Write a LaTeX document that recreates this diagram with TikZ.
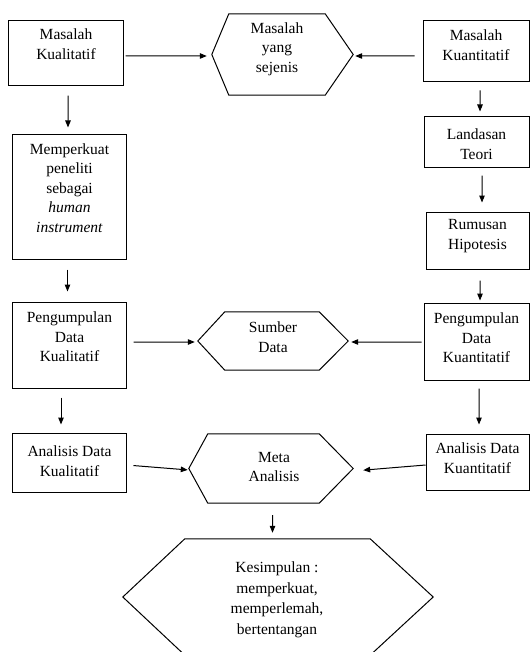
\documentclass[tikz,border=0pt]{standalone}
\usepackage{fontspec}
\setmainfont{Liberation Serif}
\usetikzlibrary{arrows.meta}
\tikzset{
  box/.style={draw=black, line width=1bp, rectangle, inner sep=0pt},
  hexn/.style={rectangle, inner sep=0pt, draw=none},
  hexline/.style={draw=black, line width=1bp, line join=miter},
  txt/.style={align=center, inner sep=0pt, font=\fontsize{15.5bp}{19.5bp}\selectfont},
  arr/.style={draw=black, line width=1bp, -{Triangle[length=7bp,width=5.5bp]}},
}
\begin{document}
\begin{tikzpicture}[x=1bp,y=-1bp]
\useasboundingbox (0,0) rectangle (530,652);
\fill[white] (0,0) rectangle (530,652);
\clip (0,0) rectangle (530,652);

% left column boxes
\node[box, minimum width=114bp, minimum height=65bp] (mk) at (66,53.5) {};
\node[txt] (mk-t) at (66,44) {Masalah\\Kualitatif};
\node[box, minimum width=113bp, minimum height=124bp] (mp) at (69.5,197) {};
\node[txt] (mp-t) at (69.5,188) {Memperkuat\\peneliti\\sebagai\\\textit{human}\\\textit{instrument}};
\node[box, minimum width=113bp, minimum height=86bp] (pk) at (69.5,345) {};
\node[txt] (pk-t) at (69.5,337) {Pengumpulan\\Data\\Kualitatif};
\node[box, minimum width=113bp, minimum height=59bp] (ak) at (69.5,462.5) {};
\node[txt] (ak-t) at (69.5,461) {Analisis Data\\Kualitatif};

% right column boxes
\node[box, minimum width=106bp, minimum height=61bp] (mq) at (476,51.5) {};
\node[txt] (mq-t) at (476,45) {Masalah\\Kuantitatif};
\node[box, minimum width=105bp, minimum height=50bp] (lt) at (476.5,142) {};
\node[txt] (lt-t) at (476.5,144) {Landasan\\Teori};
\node[box, minimum width=103bp, minimum height=57bp] (rh) at (477.5,240.5) {};
\node[txt] (rh-t) at (477.5,236) {Rumusan\\Hipotesis};
\node[box, minimum width=105bp, minimum height=77bp] (pq) at (476.5,341.5) {};
\node[txt] (pq-t) at (476.5,338) {Pengumpulan\\Data\\Kuantitatif};
\node[box, minimum width=103bp, minimum height=56bp] (aq) at (477.5,462) {};
\node[txt] (aq-t) at (477.5,458) {Analisis Data\\Kuantitatif};

% hexagons
\node[hexn, minimum width=141bp, minimum height=81bp] (ms) at (282.5,54.5) {};
\draw[hexline] (ms.west) -- ([xshift=17bp]ms.north west) -- ([xshift=-28bp]ms.north east) -- (ms.east) -- ([xshift=-28bp]ms.south east) -- ([xshift=17bp]ms.south west) -- cycle;
\node[txt] (ms-t) at (277,49) {Masalah\\yang\\sejenis};

\node[hexn, minimum width=150bp, minimum height=58bp] (sd) at (273,341) {};
\draw[hexline] (sd.west) -- ([xshift=27bp]sd.north west) -- ([xshift=-29bp]sd.north east) -- (sd.east) -- ([xshift=-29bp]sd.south east) -- ([xshift=27bp]sd.south west) -- cycle;
\node[txt] (sd-t) at (273,337) {Sumber\\Data};

\node[hexn, minimum width=164bp, minimum height=69bp] (ma) at (271,468.5) {};
\draw[hexline] (ma.west) -- ([xshift=19bp]ma.north west) -- ([xshift=-34bp]ma.north east) -- (ma.east) -- ([xshift=-34bp]ma.south east) -- ([xshift=19bp]ma.south west) -- cycle;
\node[txt] (ma-t) at (274,467) {Meta\\Analisis};

\node[hexn, minimum width=310bp, minimum height=116bp] (ks) at (278,597) {};
\draw[hexline] (ks.west) -- ([xshift=62bp]ks.north west) -- ([xshift=-63bp]ks.north east) -- (ks.east) -- ([xshift=-63bp]ks.south east) -- ([xshift=62bp]ks.south west) -- cycle;
\node[txt, font=\fontsize{15.5bp}{20.5bp}\selectfont] (ks-t) at (277,600) {Kesimpulan :\\memperkuat,\\memperlemah,\\bertentangan};

% vertical arrows
\draw[arr, shorten <=9bp, shorten >=7bp] ([xshift=2bp]mk.south) -- ([xshift=-1.5bp]mp.north);
\draw[arr, shorten <=10bp, shorten >=10bp] ([xshift=-2bp]mp.south) -- ([xshift=-2bp]pk.north);
\draw[arr, shorten <=9bp, shorten >=8bp] ([xshift=-8.5bp]pk.south) -- ([xshift=-8.5bp]ak.north);
\draw[arr, shorten <=8bp, shorten >=5bp] ([xshift=4bp]mq.south) -- ([xshift=3.5bp]lt.north);
\draw[arr, shorten <=8bp, shorten >=9bp] ([xshift=5.5bp]lt.south) -- ([xshift=4.5bp]rh.north);
\draw[arr, shorten <=11bp, shorten >=2bp] ([xshift=2.5bp]rh.south) -- ([xshift=3.5bp]pq.north);
\draw[arr, shorten <=8bp, shorten >=9bp] ([xshift=2.5bp]pq.south) -- ([xshift=1.5bp]aq.north);
\draw[arr, shorten <=12bp, shorten >=6bp] ([xshift=1.5bp]ma.south) -- ([xshift=-5.5bp]ks.north);

% horizontal arrows
\draw[arr, shorten <=2bp, shorten >=5bp] ([yshift=-2.5bp]mk.east) -- ([yshift=-1.5bp]ms.west);
\draw[arr, shorten <=8bp, shorten >=2bp] ([yshift=-4.5bp]mq.west) -- ([yshift=-1.5bp]ms.east);
\draw[arr, shorten <=7bp, shorten >=3bp] ([yshift=3bp]pk.east) -- ([yshift=-1bp]sd.west);
\draw[arr, shorten <=2bp, shorten >=3bp] ([yshift=-0.5bp]pq.west) -- ([yshift=-1bp]sd.east);
\draw[arr, shorten <=7bp, shorten >=1bp] ([yshift=-2.5bp]ak.east) -- ([yshift=-1.5bp]ma.west);
\draw[arr, shorten <=0bp, shorten >=10bp] ([yshift=-3bp]aq.west) -- ([yshift=-2.5bp]ma.east);
\end{tikzpicture}
\end{document}
